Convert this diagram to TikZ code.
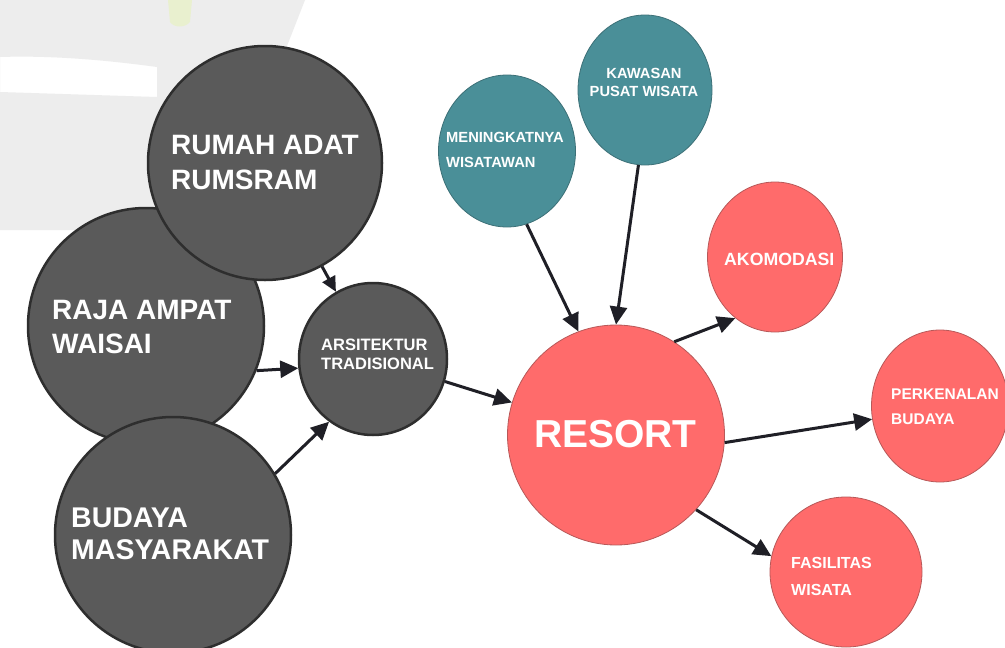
\documentclass[tikz,border=0pt]{standalone}
\usepackage{fontspec}
\setmainfont{Liberation Sans}
\usetikzlibrary{shapes.geometric,arrows.meta}
\definecolor{dk}{HTML}{5A5A5A}
\definecolor{dkb}{HTML}{2E2E2E}
\definecolor{teal1}{HTML}{4A8F98}
\definecolor{tealb}{HTML}{3C7077}
\definecolor{red1}{HTML}{FF6B6B}
\definecolor{redb}{HTML}{B85858}
\definecolor{arr}{HTML}{1F1F26}
\definecolor{wm}{HTML}{EDEDED}
\definecolor{wmy}{HTML}{E9F0CF}
\begin{document}
\begin{tikzpicture}[x=1pt,y=-1pt,
 darkc/.style={ellipse, fill=dk, draw=dkb, line width=2.5pt, inner sep=0pt},
 tealc/.style={ellipse, fill=teal1, draw=tealb, line width=0.8pt, inner sep=0pt},
 redc/.style={ellipse, fill=red1, draw=redb, line width=0.8pt, inner sep=0pt},
 txt/.style={text=white, align=left, inner sep=0pt, anchor=north west},
 conn/.style={draw=arr, line width=3pt, -{Triangle[length=18pt,width=17pt]}},
 connS/.style={draw=arr, line width=3pt, -{Triangle[length=15pt,width=14pt]}}
]
\useasboundingbox (0,0) rectangle (1005,648);
\fill[white] (0,0) rectangle (1005,648);
% faint watermark
\fill[wm, even odd rule] (0,0) -- (305,0) -- (215,230) -- (0,230) -- cycle
  (0,57) .. controls (60,55) and (120,62) .. (157,67) -- (157,97) -- (0,92) -- cycle;
\fill[wmy] (168,0) -- (192,0) -- (190,22) .. controls (185,28) and (174,28) .. (170,22) -- cycle;

% circles
\node[darkc, minimum width=236pt, minimum height=236pt] (raja) at (146,326) {};
\node[darkc, minimum width=234pt, minimum height=234pt] (rumah) at (265,163) {};
\node[darkc, minimum width=236pt, minimum height=236pt] (bud) at (173,535) {};
\node[darkc, minimum width=148pt, minimum height=152pt] (ars) at (373,359) {};
\node[tealc, minimum width=137pt, minimum height=152pt] (men) at (507,151) {};
\node[tealc, minimum width=134pt, minimum height=150pt] (kaw) at (645,90) {};
\node[redc, minimum width=135pt, minimum height=150pt] (ako) at (775,257) {};
\node[redc, minimum width=217pt, minimum height=220pt] (res) at (616,435) {};
\node[redc, minimum width=137pt, minimum height=152pt] (perk) at (940,406) {};
\node[redc, minimum width=152pt, minimum height=150pt] (fas) at (846,572) {};

% labels
\node[txt, font=\bfseries\fontsize{28}{35}\selectfont] (rumahT) at (171,135) {RUMAH ADAT\\RUMSRAM};
\node[txt, font=\bfseries\fontsize{28}{34}\selectfont] (rajaT) at (52,300) {RAJA AMPAT\\WAISAI};
\node[txt, font=\bfseries\fontsize{28.5}{32}\selectfont] (budT) at (71,508) {BUDAYA\\MASYARAKAT};
\node[txt, font=\bfseries\fontsize{16.5}{19}\selectfont] (arsT) at (321,339) {ARSITEKTUR\\TRADISIONAL};
\node[txt, font=\bfseries\fontsize{14.7}{25}\selectfont] (menT) at (446,132) {MENINGKATNYA\\WISATAWAN};
\node[txt, anchor=north, align=center, font=\bfseries\fontsize{14.7}{18}\selectfont] (kawT) at (644,68) {KAWASAN\\PUSAT WISATA};
\node[txt, font=\bfseries\fontsize{17.7}{20}\selectfont] (akoT) at (724,253) {AKOMODASI};
\node[txt, font=\bfseries\fontsize{39}{44}\selectfont] (resT) at (534,420) {RESORT};
\node[txt, font=\bfseries\fontsize{15.5}{25}\selectfont] (perkT) at (891,389) {PERKENALAN\\BUDAYA};
\node[txt, font=\bfseries\fontsize{16}{27}\selectfont] (fasT) at (791,557) {FASILITAS\\WISATA};

% connectors
\draw[connS] (rumah) -- (ars);
\draw[conn] (raja.-22) -- (ars.187);
\draw[conn] (bud.31) -- (ars.235);
\draw[conn] (ars) -- (res);
\draw[conn] (men.-75) -- (res.110);
\draw[conn] (kaw.-95) -- (res.90);
\draw[conn] (res.58) -- (ako.237);
\draw[conn] (res.-4) -- (perk.191);
\draw[conn] (res.-43) -- (fas.168);
\end{tikzpicture}
\end{document}
